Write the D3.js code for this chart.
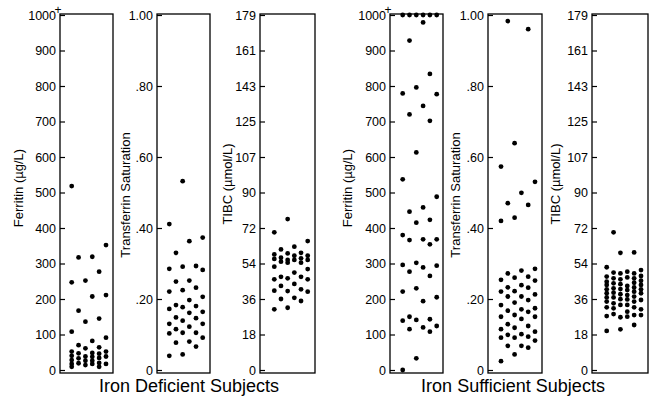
<!DOCTYPE html>
<html>
<head>
<meta charset="utf-8">
<script src="https://cdn.jsdelivr.net/npm/d3@7"></script>
<style>
  body { margin: 0; background: #fff; }
  text { font-family: "Liberation Sans", Arial, sans-serif; fill: #000; }
</style>
</head>
<body>
<div id="chart"></div>
<script>
// tick values and their printed labels
const ferritinTicks = [0, 100, 200, 300, 400, 500, 600, 700, 800, 900, 1000];
const ferritinLabels = ['0', '100', '200', '300', '400', '500', '600', '700', '800', '900', '1000'];
const satTicks = [0, 0.2, 0.4, 0.6, 0.8, 1];
const satLabels = ['0', '.20', '.40', '.60', '.80', '1.00'];
const tibcTicks = [0, 17.9, 35.8, 53.7, 71.6, 89.5, 107.4, 125.3, 143.2, 161.1, 179];
const tibcLabels = ['0', '18', '36', '54', '72', '90', '107', '125', '143', '161', '179'];

// subject values, one inner array per dot column
const defFerritin = [
  [518, 247, 108, 52, 40, 28, 17, 9],
  [317, 167, 70, 47, 33, 19],
  [252, 136, 61, 38, 26, 14],
  [319, 207, 82, 48, 37, 26, 17],
  [277, 145, 64, 46, 34, 20, 9],
  [352, 211, 91, 52, 38, 17]
];
const defSat = [
  [0.411, 0.285, 0.221, 0.172, 0.130, 0.103, 0.040],
  [0.330, 0.249, 0.183, 0.148, 0.115, 0.077],
  [0.532, 0.291, 0.225, 0.177, 0.139, 0.105, 0.044],
  [0.363, 0.252, 0.197, 0.161, 0.122, 0.080],
  [0.293, 0.232, 0.180, 0.146, 0.105, 0.066],
  [0.373, 0.282, 0.206, 0.164, 0.130, 0.091]
];
const defTibc = [
  [69.4, 58.3, 56.0, 52.1, 45.7, 40.0, 30.6],
  [60.8, 56.6, 54.6, 47.0, 42.4, 35.8],
  [76.1, 58.8, 55.5, 54.1, 46.2, 39.8, 31.4],
  [62.2, 57.6, 55.5, 49.1, 43.4, 36.4],
  [59.1, 56.3, 54.1, 47.0, 40.7, 34.8],
  [65.0, 57.6, 55.5, 50.9, 45.7, 39.5]
];
const sufFerritin = [
  [1000, 779, 537, 380, 296, 221, 139, 0],
  [1000, 928, 720, 446, 366, 277, 150, 115],
  [1000, 796, 613, 415, 302, 230, 141, 33],
  [1000, 979, 744, 458, 368, 289, 194, 120],
  [1000, 834, 702, 423, 354, 265, 143, 108],
  [1000, 777, 488, 368, 294, 205, 124]
];
const sufSat = [
  [0.573, 0.420, 0.254, 0.221, 0.183, 0.150, 0.115, 0.091, 0.025],
  [0.983, 0.470, 0.272, 0.233, 0.207, 0.167, 0.129, 0.099, 0.068],
  [0.639, 0.429, 0.260, 0.222, 0.190, 0.155, 0.119, 0.091, 0.044],
  [0.499, 0.280, 0.239, 0.207, 0.171, 0.144, 0.101, 0.068],
  [0.960, 0.465, 0.263, 0.232, 0.197, 0.164, 0.124, 0.094, 0.063],
  [0.530, 0.285, 0.252, 0.213, 0.174, 0.150, 0.108, 0.083]
];
const sufTibc = [
  [51.8, 47.1, 44.5, 42.9, 40.7, 38.7, 36.6, 34.5, 31.6, 27.2, 19.7],
  [69.4, 49.1, 46.2, 43.7, 41.2, 39.0, 36.6, 33.6, 31.1, 28.2],
  [59.1, 48.7, 45.7, 43.3, 40.8, 38.2, 35.7, 32.8, 26.6, 20.5],
  [49.6, 46.7, 42.4, 40.3, 37.8, 35.6, 32.8, 29.4, 26.9],
  [59.3, 48.7, 46.2, 44.0, 41.6, 39.5, 37.0, 34.5, 31.6, 27.7, 22.7],
  [50.4, 47.4, 45.0, 42.9, 40.7, 38.7, 35.3, 30.6, 27.7]
];

const groupTitles = ['Iron Deficient Subjects', 'Iron Sufficient Subjects'];

const width = 650;
const height = 398;
const boxTop = 14;
const boxBottom = 373;
const yTop = 15;
const yZero = 370;

const panels = [
  { x0: 60, x1: 113, c0: 71.7, c1: 106, max: 1000, ticks: ferritinTicks, labels: ferritinLabels,
    title: 'Ferritin (µg/L)', tx: 18, ty: 188, data: defFerritin, plus: true },
  { x0: 157, x1: 210, c0: 169.3, c1: 202.7, max: 1, ticks: satTicks, labels: satLabels,
    title: 'Transferrin Saturation', tx: 125, ty: 195, data: defSat },
  { x0: 260, x1: 315, c0: 274.3, c1: 307.7, max: 179, ticks: tibcTicks, labels: tibcLabels,
    title: 'TIBC (µmol/L)', tx: 227, ty: 184, data: defTibc },
  { x0: 390, x1: 443, c0: 402.7, c1: 436.7, max: 1000, ticks: ferritinTicks, labels: ferritinLabels,
    title: 'Ferritin (µg/L)', tx: 347, ty: 188, data: sufFerritin, plus: true },
  { x0: 488, x1: 542, c0: 501, c1: 535, max: 1, ticks: satTicks, labels: satLabels,
    title: 'Transferrin Saturation', tx: 455, ty: 195, data: sufSat },
  { x0: 592, x1: 648, c0: 606.7, c1: 641, max: 179, ticks: tibcTicks, labels: tibcLabels,
    title: 'TIBC (µmol/L)', tx: 555, ty: 184, data: sufTibc }
];

const svg = d3.select('#chart')
  .append('svg')
  .attr('width', width)
  .attr('height', height);

panels.forEach(p => {
  const y = d3.scaleLinear().domain([0, p.max]).range([yZero, yTop]);
  const x = d3.scalePoint().domain(d3.range(p.data.length)).range([p.c0, p.c1]);
  const g = svg.append('g');

  // box
  g.append('rect')
    .attr('x', p.x0)
    .attr('y', boxTop)
    .attr('width', p.x1 - p.x0)
    .attr('height', boxBottom - boxTop)
    .attr('fill', 'none')
    .attr('stroke', '#000')
    .attr('stroke-width', 1.3);

  // axis with inward ticks
  const axis = g.append('g')
    .attr('transform', `translate(${p.x0},0)`)
    .call(d3.axisLeft(y)
      .tickValues(p.ticks)
      .tickFormat((d, i) => p.labels[i])
      .tickSizeInner(-5)
      .tickSizeOuter(0)
      .tickPadding(4));
  axis.select('.domain').remove();
  axis.selectAll('line').attr('stroke', '#000').attr('stroke-width', 1.2);
  axis.selectAll('text')
    .attr('font-size', 12.5)
    .attr('font-family', '"Liberation Sans", Arial, sans-serif');

  if (p.plus) {
    g.append('text')
      .attr('x', p.x0 - 2)
      .attr('y', 14)
      .attr('text-anchor', 'middle')
      .attr('font-size', 12)
      .text('+');
  }

  // axis title
  g.append('text')
    .attr('transform', `translate(${p.tx},${p.ty}) rotate(-90)`)
    .attr('text-anchor', 'middle')
    .attr('dy', '0.35em')
    .attr('font-size', 13)
    .text(p.title);

  // dots
  const points = p.data.flatMap((col, i) => col.map(v => ({ col: i, value: v })));
  g.selectAll('circle')
    .data(points)
    .join('circle')
    .attr('cx', d => x(d.col))
    .attr('cy', d => y(d.value))
    .attr('r', 2.4)
    .attr('fill', '#000');
});

svg.selectAll('.group-title')
  .data(groupTitles)
  .join('text')
  .attr('class', 'group-title')
  .attr('x', (d, i) => i === 0 ? 189 : 513)
  .attr('y', 392)
  .attr('text-anchor', 'middle')
  .attr('font-size', 18)
  .text(d => d);
</script>
</body>
</html>
